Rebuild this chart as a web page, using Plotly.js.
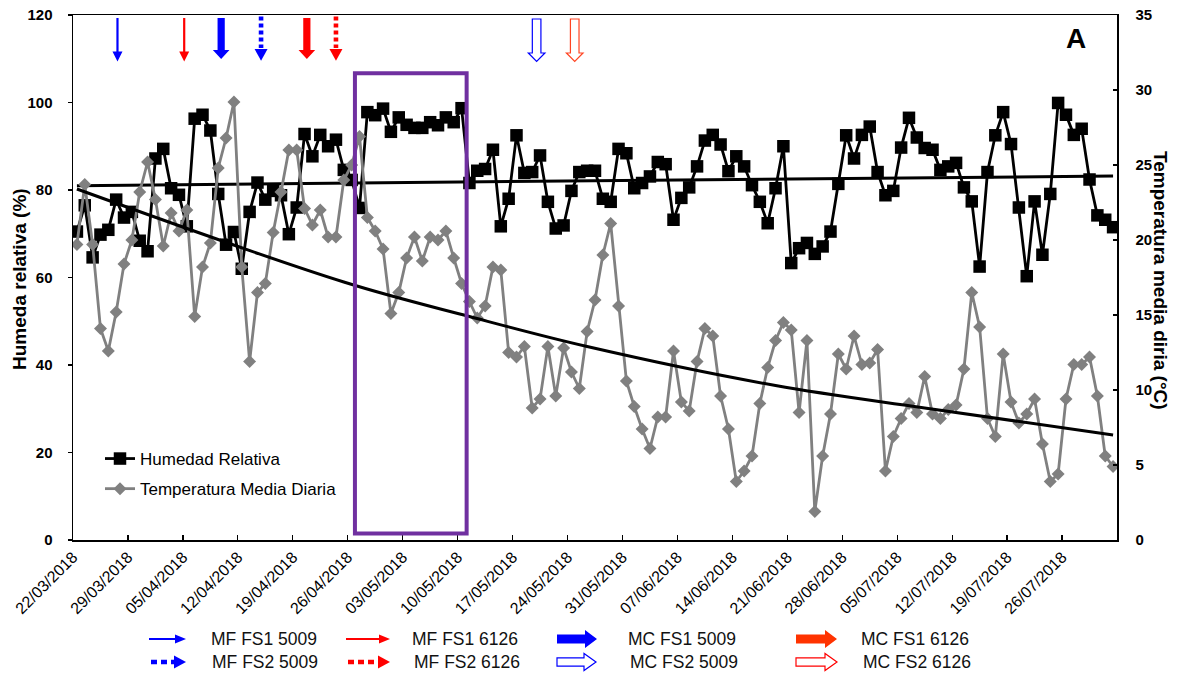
<!DOCTYPE html>
<html><head><meta charset="utf-8">
<script src="https://cdn.plot.ly/plotly-3.0.1.min.js"></script>
<style>html,body{margin:0;padding:0;background:#fff}#chart{width:1182px;height:679px}</style>
</head><body><div id="chart"></div>
<script>
// ---------------- DATA ----------------
const startDate = '2018-03-22';
const humedadRelativa = [70.5,76.5,64.6,69.8,70.9,77.8,73.7,75.0,68.4,66.0,87.2,89.4,80.4,78.9,71.7,96.3,97.2,93.6,79.1,67.5,
 70.4,62.0,75.0,81.7,77.8,79.8,78.8,69.9,76.0,92.8,87.7,92.6,90.0,91.5,84.6,82.3,75.9,97.8,97.1,98.6,
 93.3,96.6,94.9,94.2,94.2,95.5,94.8,96.6,95.5,98.7,81.6,84.4,84.8,89.2,71.7,78.0,92.5,83.9,84.1,87.9,
 77.3,71.2,71.9,79.8,84.1,84.4,84.4,78.0,77.3,89.4,88.4,80.4,81.6,83.1,86.4,85.9,73.2,78.2,80.6,85.4,
 91.3,92.6,90.4,84.3,87.7,85.4,81.1,77.3,72.4,80.4,90.0,63.3,66.7,67.9,65.4,67.1,70.5,81.4,92.5,87.2,
 92.6,94.5,84.1,78.8,79.8,89.7,96.5,92.0,89.6,89.2,84.6,85.4,86.2,80.6,77.4,62.5,84.1,92.5,97.8,90.5,
 76.0,60.3,77.4,65.2,79.1,99.9,97.2,92.6,94.0,82.4,74.2,73.2,71.5];
const temperaturaMedia = [19.7,23.7,19.7,14.1,12.6,15.2,18.4,20.0,23.2,25.2,22.7,19.6,21.8,20.6,22.0,14.9,18.2,19.8,24.8,26.8,
 29.2,18.2,11.9,16.5,17.1,20.5,23.2,26.0,26.0,22.1,21.0,22.0,20.2,20.2,24.0,25.0,26.9,21.5,20.6,19.4,
 15.1,16.5,18.8,20.2,18.6,20.2,20.0,20.6,18.8,17.1,15.9,14.8,15.6,18.2,18.0,12.5,12.2,12.9,8.8,9.4,
 12.9,9.6,12.8,11.2,10.1,13.9,16.0,19.0,21.1,15.6,10.6,8.9,7.4,6.1,8.2,8.2,12.6,9.2,8.6,11.9,
 14.1,13.6,9.6,7.4,3.9,4.6,5.6,9.1,11.5,13.3,14.5,14.0,8.5,13.3,1.9,5.6,8.4,12.4,11.4,13.6,
 11.7,11.8,12.7,4.6,6.9,8.1,9.1,8.5,10.9,8.4,8.1,8.7,9.0,11.4,16.5,14.2,8.1,6.9,12.4,9.2,
 7.8,8.4,9.4,6.4,3.9,4.4,9.4,11.7,11.7,12.2,9.6,5.6,4.9];
// trend lines (day index from start, value)
const humTrendDays = [0, 132];
const humTrendVals = [81.0, 83.2];
const tempTrendDays = [0, 34, 50, 65, 89, 108, 132];
const tempTrendVals = [23.4, 17.2, 14.9, 12.9, 10.3, 8.8, 7.0];
const tickLabels = ['22/03/2018','29/03/2018','05/04/2018','12/04/2018','19/04/2018','26/04/2018','03/05/2018',
 '10/05/2018','17/05/2018','24/05/2018','31/05/2018','07/06/2018','14/06/2018','21/06/2018','28/06/2018',
 '05/07/2018','12/07/2018','19/07/2018','26/07/2018'];
const axisEnd = '2018-08-02';
// application events (arrows at top)
const eventDates = ['2018-03-27 16:00','2018-04-05 04:00','2018-04-09 21:00','2018-04-14 23:00',
 '2018-04-20 19:00','2018-04-24 12:00','2018-05-20 01:30','2018-05-24 22:00'];
const eventKeys = ['MF FS1 5009','MF FS1 6126','MC FS1 5009','MF FS2 5009','MC FS1 6126','MF FS2 6126','MC FS2 5009','MC FS2 6126'];
const highlightDates = ['2018-04-26 22:00','2018-05-11 03:30'];
const highlightHum = [1.5, 106.7];
const legendKeys = ['MF FS1 5009','MF FS2 5009','MF FS1 6126','MF FS2 6126','MC FS1 5009','MC FS2 5009','MC FS1 6126','MC FS2 6126'];

// ---------------- STYLE ----------------
const styleOf = {
 'MF FS1 5009':{kind:'thin',  color:'#0000FF'},
 'MF FS2 5009':{kind:'dotted',color:'#0000FF'},
 'MF FS1 6126':{kind:'thin',  color:'#FF0000'},
 'MF FS2 6126':{kind:'dotted',color:'#FF0000'},
 'MC FS1 5009':{kind:'thick', color:'#0000FF'},
 'MC FS2 5009':{kind:'hollow',color:'#0000FF'},
 'MC FS1 6126':{kind:'thick', color:'#FF0000', legendColor:'#FF3300'},
 'MC FS2 6126':{kind:'hollow',color:'#FF4422', legendColor:'#FF0000'}
};
const DOWN = {
 thin:  {sh:1.1, top:-3,   base:-36.5, hh:5,   tip:-46.5},
 thick: {sh:3.6, top:-3,   base:-35,   hh:8.3, tip:-44},
 dotted:{sh:2.3, top:-1.5, base:-34,   hh:6.5, tip:-45.7},
 hollow:{sh:4.3, top:-4,   base:-38,   hh:8.3, tip:-46.4}
};
// legend layout (pixel positions)
const legendPos = {
 'MF FS1 5009':{ax:149,len:37,row:0,tx:209},
 'MF FS2 5009':{ax:151,len:35,row:1,tx:210},
 'MF FS1 6126':{ax:346,len:44,row:0,tx:409.5},
 'MF FS2 6126':{ax:348,len:42,row:1,tx:411.5},
 'MC FS1 5009':{ax:557,len:40,row:0,tx:626},
 'MC FS2 5009':{ax:557,len:39,row:1,tx:628},
 'MC FS1 6126':{ax:796,len:41,row:0,tx:859},
 'MC FS2 6126':{ax:796,len:41,row:1,tx:861}
};
const rowY = [639, 662];

const W=1182, Hh=679, ML=73, MR=65, MT=15, MB=139;
const PW = W-ML-MR, PH = Hh-MT-MB;
const px2x = p => (p-ML)/PW;
const py2y = p => (MT+PH-p)/PH;

const D_MS = 86400000, H_MS = 3600000;
const t0 = Date.parse(startDate+'T00:00:00Z');
function iso(ms){const d=new Date(ms);const p=n=>String(n).padStart(2,'0');
 return d.getUTCFullYear()+'-'+p(d.getUTCMonth()+1)+'-'+p(d.getUTCDate())+' '+p(d.getUTCHours())+':'+p(d.getUTCMinutes());}
const dayDate = i => iso(t0 + i*D_MS + 12*H_MS);
const dates = humedadRelativa.map((_,i)=>dayDate(i));
const tickVals = tickLabels.map(s=>{const [d,m,y]=s.split('/');return y+'-'+m+'-'+d;});

const FONT = 'Liberation Sans, Arial, sans-serif';

const traces = [
 {x:dates, y:humedadRelativa, name:'Humedad Relativa', type:'scatter', mode:'lines+markers', legendgroup:'a',
  line:{color:'#000', width:2.8}, marker:{symbol:'square', size:12.5, color:'#000'}, yaxis:'y'},
 {x:dates, y:temperaturaMedia, name:'Temperatura Media Diaria', type:'scatter', mode:'lines+markers', legendgroup:'b',
  line:{color:'#808080', width:2.8}, marker:{symbol:'diamond', size:10, color:'#808080'}, yaxis:'y2'},
 {x:humTrendDays.map(dayDate), y:humTrendVals, type:'scatter', mode:'lines', showlegend:false,
  line:{color:'#000', width:3}, yaxis:'y'},
 {x:tempTrendDays.map(dayDate), y:tempTrendVals, type:'scatter', mode:'lines', showlegend:false,
  line:{color:'#000', width:3, shape:'spline', smoothing:1}, yaxis:'y2'}
];

function pathDown(g){
 return `M${-g.sh},${g.top} L${g.sh},${g.top} L${g.sh},${g.base} L${g.hh},${g.base} L0,${g.tip} L${-g.hh},${g.base} L${-g.sh},${g.base} Z`;
}
function headDown(g){ return `M${-g.hh},${g.base} L${g.hh},${g.base} L0,${g.tip} Z`; }
function pathRight(len, hl, sh, hh){
 const b=len-hl;
 return `M0,${sh} L${b},${sh} L${b},${hh} L${len},0 L${b},${-hh} L${b},${-sh} L0,${-sh} Z`;
}
function headRight(len, hl, hh){ const b=len-hl; return `M${b},${hh} L${len},0 L${b},${-hh} Z`; }

const shapes = [];
// highlight rectangle
shapes.push({type:'rect', xref:'x', yref:'y', x0:highlightDates[0], x1:highlightDates[1], y0:highlightHum[0], y1:highlightHum[1],
 line:{color:'#7030A0', width:4}, fillcolor:'rgba(0,0,0,0)', layer:'above'});

// arrows at top
eventDates.forEach((d,k)=>{
 const st = styleOf[eventKeys[k]]; const g = DOWN[st.kind];
 const base = {xref:'x', yref:'paper', xsizemode:'pixel', ysizemode:'pixel', xanchor:d, yanchor:1, layer:'above'};
 if(st.kind==='dotted'){
  shapes.push(Object.assign({}, base, {type:'path', path:`M0,${g.top} L0,${g.base+1}`, line:{color:st.color, width:g.sh*2, dash:'4px,3px'}}));
  shapes.push(Object.assign({}, base, {type:'path', path:headDown(g), fillcolor:st.color, line:{width:0}}));
 } else if(st.kind==='hollow'){
  shapes.push(Object.assign({}, base, {type:'path', path:pathDown(g), fillcolor:'#fff', line:{color:st.color, width:1.2}}));
 } else {
  shapes.push(Object.assign({}, base, {type:'path', path:pathDown(g), fillcolor:st.color, line:{width:0}}));
 }
});

// bottom legend
const annotations = [];
legendKeys.forEach(key=>{
 const st = styleOf[key]; const p = legendPos[key]; const col = st.legendColor || st.color;
 const base = {xref:'paper', yref:'paper', xsizemode:'pixel', ysizemode:'pixel', xanchor:px2x(p.ax), yanchor:py2y(rowY[p.row]), layer:'above'};
 if(st.kind==='thin'){
  shapes.push(Object.assign({}, base, {type:'path', path:pathRight(p.len, 11, 1.1, 4.5), fillcolor:col, line:{width:0}}));
 } else if(st.kind==='dotted'){
  shapes.push(Object.assign({}, base, {type:'path', path:`M0,0 L${p.len-11},0`, line:{color:col, width:4.5, dash:'6px,4px'}}));
  shapes.push(Object.assign({}, base, {type:'path', path:headRight(p.len, 12, 6.5), fillcolor:col, line:{width:0}}));
 } else if(st.kind==='thick'){
  shapes.push(Object.assign({}, base, {type:'path', path:pathRight(p.len, 12, 4.5, 9), fillcolor:col, line:{width:0}}));
 } else {
  shapes.push(Object.assign({}, base, {type:'path', path:pathRight(p.len, 12, 4.2, 8.5), fillcolor:'#fff', line:{color:col, width:1.2}}));
 }
 annotations.push({xref:'paper', yref:'paper', x:px2x(p.tx), y:py2y(rowY[p.row]), xanchor:'left', yanchor:'middle',
  text:key, showarrow:false, font:{family:FONT, size:17.5, color:'#111'}});
});

annotations.push({xref:'paper', yref:'paper', x:px2x(1076), y:py2y(38), xanchor:'center', yanchor:'middle', text:'A',
 showarrow:false, font:{family:FONT, size:28, weight:'bold', color:'#000'}});
annotations.push({xref:'paper', yref:'paper', x:px2x(19), y:py2y(279), xanchor:'center', yanchor:'middle', text:'Humeda relativa (%)',
 textangle:-90, showarrow:false, font:{family:FONT, size:19, weight:'bold', color:'#000'}});
annotations.push({xref:'paper', yref:'paper', x:px2x(1161), y:py2y(280), xanchor:'center', yanchor:'middle', text:'Temperatura media diria (°C)',
 textangle:90, showarrow:false, font:{family:FONT, size:19, weight:'bold', color:'#000'}});

const layout = {
 width:W, height:Hh, margin:{l:ML, r:MR, t:MT, b:MB, pad:0},
 paper_bgcolor:'#fff', plot_bgcolor:'#fff',
 font:{family:FONT, color:'#000'},
 showlegend:true,
 legend:{x:px2x(100), y:py2y(441), xanchor:'left', yanchor:'top', bgcolor:'rgba(0,0,0,0)', borderwidth:0,
  font:{family:FONT, size:17, color:'#000'}, traceorder:'grouped', tracegroupgap:5},
 xaxis:{type:'date', range:[startDate, axisEnd], tickmode:'array', tickvals:tickVals, ticktext:tickLabels, tickangle:-45,
  tickfont:{family:FONT, size:16, color:'#000'}, ticks:'inside', ticklen:5, tickwidth:1.3, tickcolor:'#000',
  showline:true, linecolor:'#000', linewidth:1.5, mirror:true, showgrid:false, zeroline:false},
 yaxis:{range:[0,120], tick0:0, dtick:20, ticks:'outside', ticklen:4, tickwidth:1.3, tickcolor:'#000',
  showline:true, linecolor:'#000', linewidth:1.5, showgrid:false, zeroline:false, ticklabelstandoff:12,
  tickfont:{family:FONT, size:15, weight:'bold', color:'#000'}},
 yaxis2:{overlaying:'y', side:'right', range:[0,35], tick0:0, dtick:5, ticks:'inside', ticklen:4, tickwidth:1.3, tickcolor:'#000',
  showline:true, linecolor:'#000', linewidth:1.5, showgrid:false, zeroline:false, ticklabelstandoff:14,
  tickfont:{family:FONT, size:15, weight:'bold', color:'#000'}},
 shapes:shapes, annotations:annotations
};
Plotly.newPlot('chart', traces, layout, {displayModeBar:false, staticPlot:true});
</script></body></html>
